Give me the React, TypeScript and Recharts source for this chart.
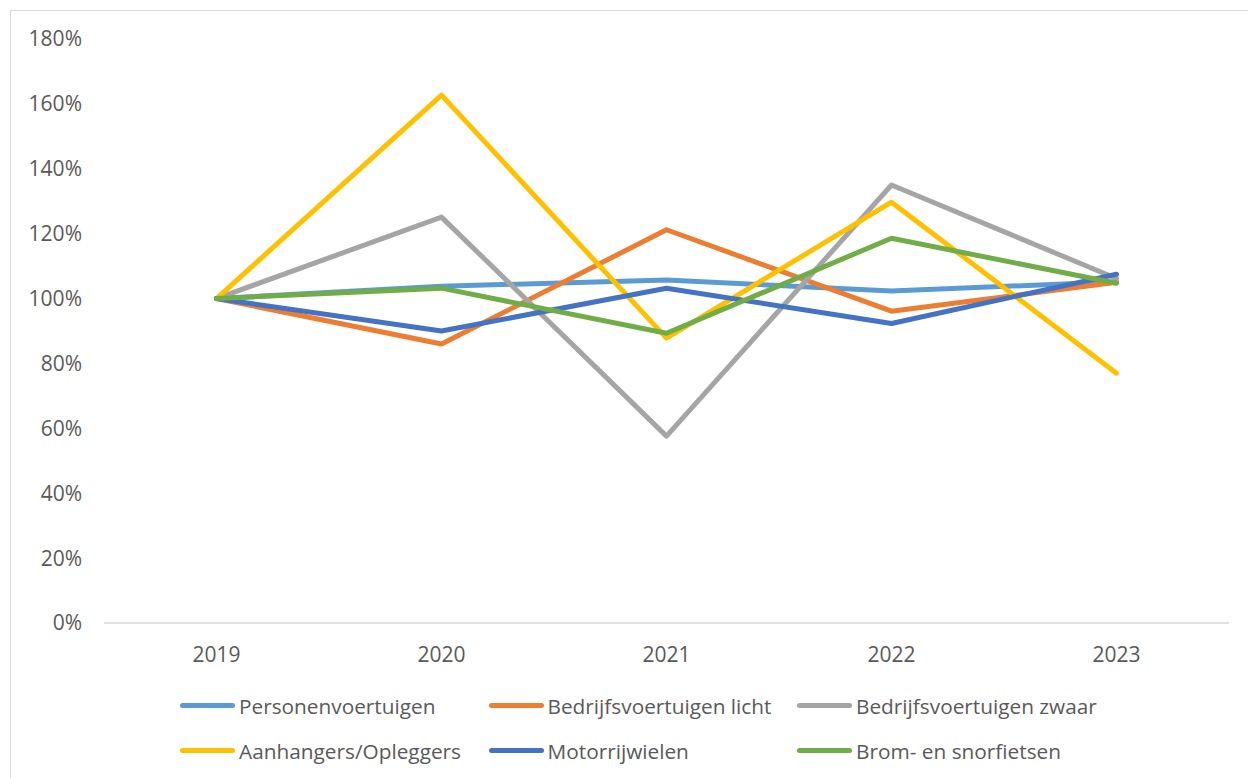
import React from 'react';
import { LineChart, Line, XAxis, YAxis } from "recharts";

const years = ["2019", "2020", "2021", "2022", "2023"];

const personen = [100, 103.8, 105.7, 102.3, 105.2];
const bedrijfLicht = [100, 86, 121.2, 96.1, 105];
const bedrijfZwaar = [100, 125.1, 57.6, 135, 106.2];
const aanhangers = [100, 162.7, 87.8, 129.7, 77];
const motor = [100, 90, 103.2, 92.3, 107.5];
const brom = [100, 103.2, 89.3, 118.6, 104.7];

const yTicks = [0, 20, 40, 60, 80, 100, 120, 140, 160, 180];

const series = [
	{ key: "p", name: "Personenvoertuigen", color: "#5B9BD5", values: personen },
	{ key: "bl", name: "Bedrijfsvoertuigen licht", color: "#ED7D31", values: bedrijfLicht },
	{ key: "bz", name: "Bedrijfsvoertuigen zwaar", color: "#A5A5A5", values: bedrijfZwaar },
	{ key: "a", name: "Aanhangers/Opleggers", color: "#FFC000", values: aanhangers },
	{ key: "m", name: "Motorrijwielen", color: "#4472C4", values: motor },
	{ key: "b", name: "Brom- en snorfietsen", color: "#70AD47", values: brom },
];

const data = years.map((year, i) => {
	const row: any = { year };
	series.forEach(s => { row[s.key] = s.values[i]; });
	return row;
});

const font = "'Open Sans', sans-serif";
const textColor = "#595959";

const App = () => (
	<div style={{ position: "absolute", left: 10, top: 10, width: 1237, height: 767, border: "1px solid #d9d9d9", background: "#fff", fontFamily: font }}>
		<LineChart
			width={1237}
			height={767}
			data={data}
			margin={{ top: 28, right: 19, left: 0, bottom: 125 }}
		>
			<XAxis
				dataKey="year"
				height={30}
				padding={{ left: 112.5, right: 112.5 }}
				axisLine={{ stroke: "#d9d9d9", strokeWidth: 1.5 }}
				tickLine={false}
				tickSize={0}
				tickMargin={24}
				tick={{ fill: textColor, fontSize: 21, fontFamily: font }}
			/>
			<YAxis
				width={93}
				domain={[0, 180]}
				ticks={yTicks}
				tickFormatter={(v: number) => `${v}%`}
				axisLine={false}
				tickLine={false}
				tickSize={0}
				tickMargin={22}
				tick={{ fill: textColor, fontSize: 21, fontFamily: font }}
			/>
			{series.map(s => (
				<Line
					key={s.key}
					type="linear"
					dataKey={s.key}
					name={s.name}
					stroke={s.color}
					strokeWidth={5}
					strokeLinejoin="round"
					strokeLinecap="round"
					dot={false}
					activeDot={false}
					isAnimationActive={false}
				/>
			))}
		</LineChart>
		<div style={{ position: "absolute", left: 169, top: 672, display: "grid", gridTemplateColumns: "308.5px 308.5px 308.5px", gridAutoRows: "45px" }}>
			{series.map(s => (
				<div key={s.key} style={{ display: "flex", alignItems: "center" }}>
					<span style={{ display: "inline-block", width: 55, height: 5, borderRadius: 3, background: s.color, marginRight: 4 }} />
					<span style={{ fontSize: 20.8, color: textColor, whiteSpace: "nowrap" }}>{s.name}</span>
				</div>
			))}
		</div>
	</div>
);

export default App;
